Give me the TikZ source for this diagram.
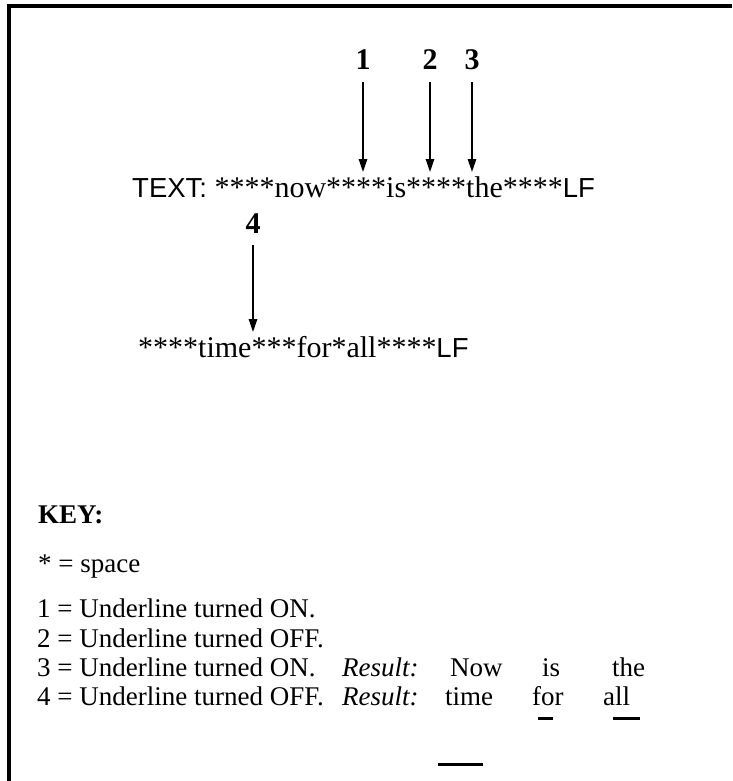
\documentclass[tikz,border=0pt]{standalone}
\usepackage{fontspec}
\setmainfont{Liberation Serif}
\newfontfamily\helv{Liberation Sans}
\usetikzlibrary{positioning, arrows.meta}
\newcommand{\bigtxt}{\fontsize{30}{33}\selectfont}
\newcommand{\keytxt}{\fontsize{27}{30}\selectfont}
\newcommand{\sanstxt}[1]{{\helv\fontsize{27.5}{30}\selectfont #1}}
\tikzset{
    numlabel/.style={inner sep=0pt, anchor=base, font=\bigtxt\bfseries},
    textline/.style={inner sep=0pt, anchor=base west, font=\bigtxt},
    keyline/.style={inner sep=0pt, anchor=base west, font=\keytxt},
    pointer/.style={-{Triangle[length=13pt, width=8.5pt]}, line width=1.3pt, shorten <=12pt},
    uline/.style={line width=3pt},
    frameline/.style={line width=3.6pt},
}
\begin{document}
\begin{tikzpicture}[x=1pt, y=-1pt]
    \useasboundingbox (0,0) rectangle (732,781);
    % Frame (top and left edge only)
    \draw[frameline] (8.8,781) -- (8.8,6.3) -- (732,6.3);

    % First text line with pointers 1, 2, 3
    \node[textline] (line1) at (132,197) {\sanstxt{TEXT:} ****now****is****the****\sanstxt{LF}};
    \node[numlabel] (n1) at (363,70) {1};
    \node[numlabel] (n2) at (430,70) {2};
    \node[numlabel] (n3) at (472,70) {3};
    \coordinate (t1) at (363,172);
    \coordinate (t2) at (430,172);
    \coordinate (t3) at (472,172);
    \draw[pointer] (n1.base) -- (t1);
    \draw[pointer] (n2.base) -- (t2);
    \draw[pointer] (n3.base) -- (t3);

    % Second text line with pointer 4
    \node[textline] (line2) at (138,357) {****time***for*all****\sanstxt{LF}};
    \node[numlabel] (n4) at (253,233) {4};
    \coordinate (t4) at (253,332);
    \draw[pointer] (n4.base) -- (t4);

    % Key
    \node[keyline, font=\keytxt\bfseries] (key) at (38,523) {KEY:};
    \node[keyline] (star) at (38,572) {* = space};
    \node[keyline] (k1) at (37,617) {1 = Underline turned ON.};
    \node[keyline] (k2) at (37,647) {2 = Underline turned OFF.};
    \node[keyline] (k3) at (37,676) {3 = Underline turned ON.};
    \node[keyline] (k4) at (37,705) {4 = Underline turned OFF.};

    % Results
    \node[keyline, font=\keytxt\itshape] (res3) at (342,676) {Result:};
    \node[keyline, font=\keytxt\itshape] (res4) at (342,705) {Result:};
    \node[keyline] (now) at (450,676) {Now};
    \node[keyline] (is) at (542,676) {is};
    \node[keyline] (the) at (612,676) {the};
    \node[keyline] (time) at (445,705) {time};
    \node[keyline] (for) at (532,705) {for};
    \node[keyline] (all) at (603,705) {all};
    \draw[uline] (538,718) -- (553,718);
    \draw[uline] (613,718) -- (640,718);
    \draw[uline] (438,764) -- (483,764);
\end{tikzpicture}
\end{document}
